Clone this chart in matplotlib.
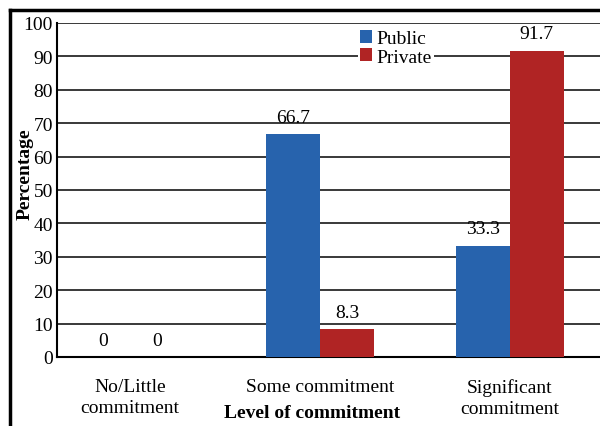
import matplotlib
matplotlib.use("Agg")
import matplotlib.pyplot as plt
from matplotlib.lines import Line2D
import numpy as np

categories = ["No/Little\ncommitment", "Some commitment", "Significant\ncommitment"]
public = [0, 66.7, 33.3]
private = [0, 8.3, 91.7]
public_labels = ["0", "66.7", "33.3"]
private_labels = ["0", "8.3", "91.7"]

plt.rcParams['font.family'] = ['Liberation Serif', 'DejaVu Serif']

fig = plt.figure(figsize=(6, 4.27), dpi=100)
W, H = 600, 427
ax = fig.add_axes([57 / W, 1 - 358 / H, 1 - 57 / W, (358 - 24) / H])

x = np.arange(len(categories))
bw = 0.284
blue = "#2763ad"
red = "#b02424"
FS = 14

b1 = ax.bar(x - bw / 2, public, bw, color=blue, label="Public", zorder=3)
b2 = ax.bar(x + bw / 2, private, bw, color=red, label="Private", zorder=3)

for bars, labs in ((b1, public_labels), (b2, private_labels)):
    for rect, lab in zip(bars, labs):
        ax.annotate(lab, (rect.get_x() + rect.get_width() / 2, rect.get_height()),
                    xytext=(0, 6), textcoords="offset points", ha="center", va="bottom",
                    fontsize=FS, zorder=4)

ax.set_xlim(-0.384, 2.474)
ax.set_ylim(0, 100)
ax.set_yticks(np.arange(0, 101, 10))
ax.yaxis.grid(True, color="#2a2a2a", linewidth=1.3, zorder=0)
ax.set_axisbelow(True)
ax.set_xticks(x)
ax.set_xticklabels(categories, fontsize=FS, linespacing=1.35)
ax.tick_params(axis="both", length=0, labelsize=FS)
ax.tick_params(axis="x", pad=15)
ax.tick_params(axis="y", pad=3)

for s in ["top", "right"]:
    ax.spines[s].set_visible(False)
ax.spines["left"].set_linewidth(1.5)
ax.spines["bottom"].set_linewidth(1.5)

ax.set_ylabel("Percentage", fontsize=FS, fontweight="bold")
ax.yaxis.set_label_coords(-(57 - 25) / 543, (358 - 174) / 334)
ax.set_xlabel("Level of commitment", fontsize=FS, fontweight="bold")
ax.xaxis.set_label_coords((312 - 57) / 543, -(413 - 358) / 334)
ax.xaxis.label.set_va("center")
ax.yaxis.label.set_va("center")

leg = ax.legend(loc="upper left", bbox_to_anchor=((358 - 57) / 543, 1 - 5 / 334),
                frameon=True, fontsize=FS, handlelength=0.6, handleheight=0.65,
                handletextpad=0.25, labelspacing=0.05, borderpad=0.1, borderaxespad=0)
leg.get_frame().set_edgecolor("none")
leg.get_frame().set_facecolor("white")
leg.get_frame().set_alpha(1)
leg.set_zorder(5)

# figure border (left and top)
fig.add_artist(Line2D([10 / W, 10 / W], [0, 1 - 11 / H], color="black", linewidth=2.5,
                      transform=fig.transFigure))
fig.add_artist(Line2D([10 / W, 1], [1 - 11 / H, 1 - 11 / H], color="black", linewidth=2.5,
                      transform=fig.transFigure))

fig.savefig("out.png", dpi=100)
